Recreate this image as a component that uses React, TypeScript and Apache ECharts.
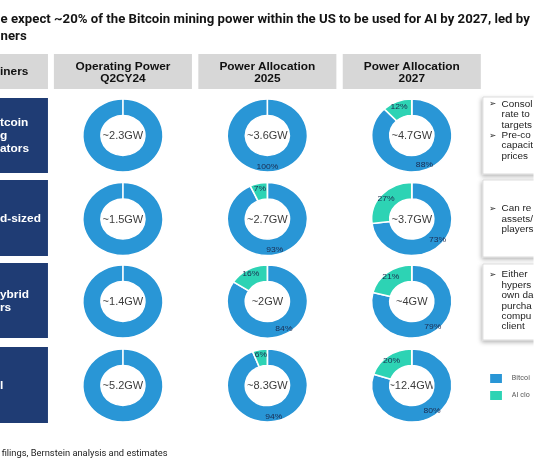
import React, { useEffect, useRef } from "react";
import * as echarts from "echarts";

// The slide is laid out on a narrower base canvas and widened horizontally.
const STRETCH = 1.1;
const PAGE_W = 534;
const PAGE_H = 462;
const BASE_W = PAGE_W / STRETCH;

const BLUE = "#2996d6";
const TEAL = "#2dd3b4";
const NAVY = "#1f3c74";
const HEADER_GRAY = "#d7d7d7";

const titleLines = [
  "e expect ~20% of the Bitcoin mining power within the US to be used for AI by 2027, led by",
  "ners",
];
const cornerHeader = "iners";
const columnHeaders = [
  ["Operating Power", "Q2CY24"],
  ["Power Allocation", "2025"],
  ["Power Allocation", "2027"],
];
const groupLabels = [["tcoin", "g", "ators"], ["d-sized"], ["ybrid", "rs"], ["l"]];
const capacity = [
  ["~2.3GW", "~3.6GW", "~4.7GW"],
  ["~1.5GW", "~2.7GW", "~3.7GW"],
  ["~1.4GW", "~2GW", "~4GW"],
  ["~5.2GW", "~8.3GW", "~12.4GW"],
];
const bitcoinShare = [
  [100, 100, 88],
  [100, 93, 73],
  [100, 84, 79],
  [100, 94, 80],
];
const aiShare = [
  [0, 0, 12],
  [0, 7, 27],
  [0, 16, 21],
  [0, 6, 20],
];
const notes = [
  [["Consol", "rate to", "targets"], ["Pre-co", "capacit", "prices"]],
  [["Can re", "assets/", "players"]],
  [["Either", "hypers", "own da", "purcha", "compu", "client"]],
];
const legendNames = ["Bitcoin mining", "AI cloud"];
const sourceNote = "filings, Bernstein analysis and estimates";

// layout (base canvas units)
const COL_LEFT = 49;
const COL_W = 125.5;
const COL_STEP = 131.3;
const HEADER_TOP = 54;
const HEADER_H = 35;
const ROW_BOXES = [
  [98, 173],
  [180, 256],
  [263, 338],
  [347, 423],
];
const ROW_CENTERS = [135.5, 219, 301.5, 385.5];
const NOTE_BOXES = [
  [97, 174],
  [180, 257],
  [264, 340],
];
const NOTE_FIRST_LINE = [103.5, 208, 274];
const NOTE_LINE_H = 10.4;
const NOTE_X = 439;
const SIDE_W = 43.6;

const colCenter = (c: number) => COL_LEFT + COL_W / 2 + c * COL_STEP;

const TITLE_FONT = "bold 12.5px Roboto, 'Liberation Sans', sans-serif";
const TITLE_WIDTH = 481.5;

function measure(text: string, font: string): number {
  const ctx = document.createElement("canvas").getContext("2d");
  if (!ctx) return text.length * 6;
  ctx.font = font;
  return ctx.measureText(text).width;
}

function buildOption() {
  const titleScale = TITLE_WIDTH / measure(titleLines[0], TITLE_FONT);
  const graphics: any[] = [];

  // title
  titleLines.forEach((t, i) => {
    graphics.push({
      type: "text",
      x: 0.5,
      y: 18.5 + i * 17.5,
      scaleX: titleScale,
      style: { text: t, font: TITLE_FONT, fill: "#141414", textVerticalAlign: "middle" },
    });
  });

  // header row
  graphics.push({
    type: "rect",
    shape: { x: -6, y: HEADER_TOP, width: SIDE_W + 6, height: HEADER_H },
    style: { fill: HEADER_GRAY },
  });
  graphics.push({
    type: "text",
    x: 0,
    y: HEADER_TOP + HEADER_H / 2,
    style: {
      text: cornerHeader,
      font: "bold 10.8px 'Liberation Sans', Arial, sans-serif",
      fill: "#111",
      textVerticalAlign: "middle",
    },
  });
  columnHeaders.forEach((lines, c) => {
    graphics.push({
      type: "rect",
      shape: { x: COL_LEFT + c * COL_STEP, y: HEADER_TOP, width: COL_W, height: HEADER_H },
      style: { fill: HEADER_GRAY },
    });
    lines.forEach((t, i) => {
      graphics.push({
        type: "text",
        x: colCenter(c),
        y: HEADER_TOP + 12 + i * 12,
        style: {
          text: t,
          font: "bold 10.8px 'Liberation Sans', Arial, sans-serif",
          fill: "#111",
          textAlign: "center",
          textVerticalAlign: "middle",
        },
      });
    });
  });

  // group boxes on the left
  ROW_BOXES.forEach(([y0, y1], r) => {
    graphics.push({
      type: "rect",
      shape: { x: -6, y: y0, width: SIDE_W + 6, height: y1 - y0 },
      style: { fill: NAVY },
    });
    const lines = groupLabels[r];
    const mid = (y0 + y1) / 2;
    lines.forEach((t, i) => {
      graphics.push({
        type: "text",
        x: 0,
        y: mid + (i - (lines.length - 1) / 2) * 13,
        style: {
          text: t,
          font: "bold 10.8px 'Liberation Sans', Arial, sans-serif",
          fill: "#ffffff",
          textVerticalAlign: "middle",
        },
      });
    });
  });

  // capacity in each ring centre
  capacity.forEach((row, r) =>
    row.forEach((t, c) => {
      graphics.push({
        type: "text",
        x: colCenter(c),
        y: ROW_CENTERS[r],
        style: {
          text: t,
          font: "10px 'Liberation Sans', Arial, sans-serif",
          fill: "#3c3c3c",
          textAlign: "center",
          textVerticalAlign: "middle",
        },
      });
    })
  );

  // comment boxes on the right
  NOTE_BOXES.forEach(([y0, y1], b) => {
    graphics.push({
      type: "rect",
      shape: { x: NOTE_X, y: y0, width: 70, height: y1 - y0 },
      style: {
        fill: "#ffffff",
        stroke: "#d5d5d5",
        lineWidth: 0.8,
        shadowBlur: 4,
        shadowColor: "rgba(0,0,0,0.3)",
        shadowOffsetX: -1,
        shadowOffsetY: 2,
      },
    });
    let k = 0;
    notes[b].forEach((g) => {
      g.forEach((t, i) => {
        const y = NOTE_FIRST_LINE[b] + k * NOTE_LINE_H;
        if (i === 0) {
          graphics.push({
            type: "text",
            x: NOTE_X + 5.5,
            y,
            style: {
              text: "\u27A2",
              font: "8px 'DejaVu Sans', sans-serif",
              fill: "#222",
              textVerticalAlign: "middle",
            },
          });
        }
        graphics.push({
          type: "text",
          x: NOTE_X + 17,
          y,
          style: {
            text: t,
            font: "9px 'Liberation Sans', Arial, sans-serif",
            fill: "#222",
            textVerticalAlign: "middle",
          },
        });
        k++;
      });
    });
  });

  // source line
  graphics.push({
    type: "text",
    x: 1.5,
    y: 453,
    style: {
      text: sourceNote,
      font: "8.5px Roboto, 'Liberation Sans', sans-serif",
      fill: "#222",
      textVerticalAlign: "middle",
    },
  });

  const series: any[] = [];
  ROW_CENTERS.forEach((cy, r) => {
    for (let c = 0; c < 3; c++) {
      const showPct = c > 0;
      series.push({
        type: "pie",
        silent: true,
        center: [colCenter(c), cy],
        radius: [20, 36.5],
        startAngle: 90,
        clockwise: true,
        avoidLabelOverlap: false,
        label: {
          show: showPct,
          position: "inside",
          formatter: "{c}%",
          fontSize: 7.8,
          fontFamily: "'Liberation Sans', Arial, sans-serif",
          color: "#1b2a4e",
        },
        labelLine: { show: false },
        itemStyle: { borderColor: "#ffffff", borderWidth: 1.5 },
        emphasis: { disabled: true },
        data: [
          {
            name: legendNames[0],
            value: bitcoinShare[r][c],
            itemStyle: { color: BLUE },
            label: { show: showPct && bitcoinShare[r][c] > 0 },
          },
          {
            name: legendNames[1],
            value: aiShare[r][c],
            itemStyle: { color: TEAL },
            label: { show: showPct && aiShare[r][c] > 0 },
          },
        ],
      });
    }
  });

  return {
    animation: false,
    backgroundColor: "#ffffff",
    legend: {
      orient: "vertical",
      left: 443.6,
      top: 372,
      padding: 0,
      itemWidth: 12.7,
      itemHeight: 11,
      itemGap: 4,
      icon: "rect",
      selectedMode: false,
      data: legendNames,
      textStyle: {
        fontSize: 6.5,
        color: "#555",
        fontFamily: "Roboto, 'Liberation Sans', sans-serif",
        width: 21,
        overflow: "truncate",
        ellipsis: "",
        padding: [0, 0, 0, 3],
      },
    },
    graphic: { elements: graphics },
    series,
  };
}

export default function App() {
  const ref = useRef<HTMLDivElement>(null);
  useEffect(() => {
    if (!ref.current) return;
    const chart = echarts.init(ref.current, undefined, { renderer: "svg" });
    chart.setOption(buildOption() as any);
    return () => chart.dispose();
  }, []);
  return (
    <div
      style={{
        position: "fixed",
        left: 0,
        top: 0,
        width: PAGE_W,
        height: PAGE_H,
        overflow: "hidden",
        background: "#fff",
      }}
    >
      <div
        ref={ref}
        style={{
          width: BASE_W,
          height: PAGE_H,
          transform: `scaleX(${STRETCH})`,
          transformOrigin: "0 0",
        }}
      />
    </div>
  );
}
